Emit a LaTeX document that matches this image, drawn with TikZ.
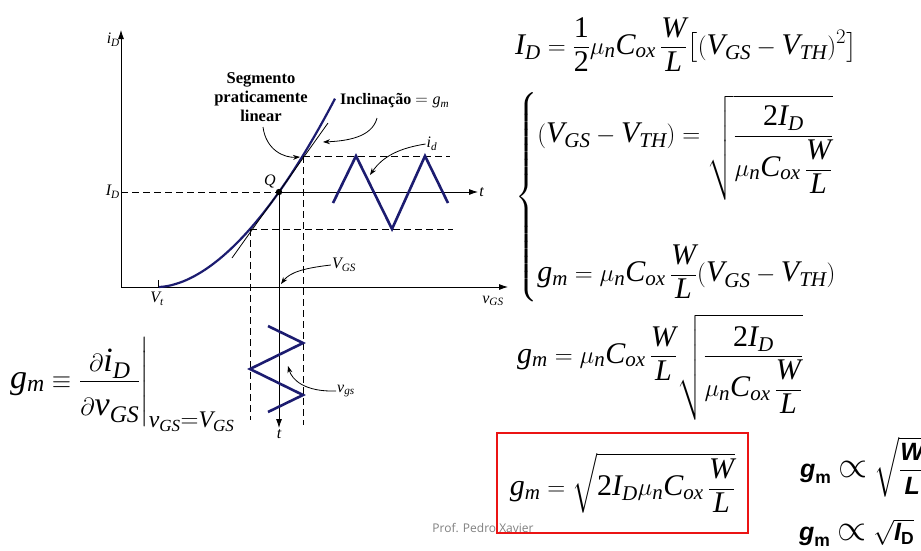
\documentclass[tikz,border=0pt]{standalone}
\usepackage{amsmath}
\usepackage{fontspec}
\setmainfont{Liberation Serif}
\newfontfamily\arialfont{Liberation Sans}
\newfontfamily\slidefont{Open Sans}
\usetikzlibrary{
    calc,
    positioning,
    arrows.meta
}
% Times-like letters in formulas
\DeclareSymbolFont{tletters}{TU}{\rmdefault}{m}{it}
\newcommand{\TL}[1]{\DeclareMathSymbol{#1}{\mathalpha}{tletters}{`#1}}
\TL C\TL D\TL G\TL H\TL I\TL L\TL S\TL T\TL V\TL W\TL Q
\TL d\TL g\TL i\TL m\TL n\TL o\TL s\TL t\TL v\TL x
\newcommand{\dg}[1]{\text{\normalfont #1}}
\definecolor{curveblue}{RGB}{28,28,112}
\definecolor{boxred}{RGB}{235,20,20}
\tikzset{
  axis/.style={thick,-{Latex[length=9pt,width=6pt]}},
  guide/.style={thick,dash pattern=on 7pt off 4pt},
  wave/.style={curveblue,line width=2.6pt},
  pointer/.style={thick,-{Stealth[length=7pt,width=5pt]}},
  lbl/.style={font=\fontsize{16}{19}\selectfont,inner sep=1pt},
  eq/.style={inner sep=0pt,font=\fontsize{30}{36}\selectfont},
  propeq/.style={inner sep=0pt,font=\arialfont\bfseries\fontsize{25}{28}\selectfont}
}
\newcommand{\Mos}{\mu_n C_{ox}\,\dfrac{W}{L}}
\newcommand{\Prop}{\mathrel{\scalebox{1.5}{$\propto$}}}

\begin{document}
\begin{tikzpicture}[x=1pt,y=-1pt]
\useasboundingbox (0,0) rectangle (921,550);
% axes of the transfer curve
\coordinate (O) at (121,287);
\coordinate (Ytop) at (121,30);
\coordinate (Xend) at (508,287);
\coordinate (Vt) at (158,287);
\coordinate (Q) at (279,192);
\coordinate (Up) at (303,156);
\coordinate (Lo) at (250,229);
\draw[axis] (O) -- (Ytop);
\draw[axis] (O) -- (Xend);
\draw[thick] (Vt) -- ++(0,-7);
\node[lbl,left] at (Ytop |- 0,40) {$i_D$};
\node[lbl] at (493,301) {$v_{GS}$};
\node[lbl] at (157,299) {$V_t$};
\node[lbl,left] at (O |- Q) {$I_D$};
% curve and tangent
\draw[curveblue,line width=2.2pt] plot[domain=159:335,samples=60]
  (\x,{287-95*((\x-158)/121)^1.8});
\draw[thick] (232,258) -- (328,123);
% bias point
\draw[guide] (O |- Q) -- (Q);
\draw[axis] (Q) -- (478,192) node[lbl,right] {$t$};
\draw[axis] (Q) -- (279,428) node[lbl,below] {$t$};
\fill (Q) circle (3.2pt);
\node[lbl] at (270,181) {$Q$};
% swing limits
\draw[guide] (Up) -- (450,156);
\draw[guide] (Lo) -- (453,229);
\draw[guide] (Up) -- (303,425);
\draw[guide] (Lo) -- (250,420);
% signals
\draw[wave] (333,203) -- (356,156) -- (392,229) -- (425,156) -- (448,203);
\draw[wave] (268,326) -- (303,343) -- (250,369) -- (303,395) -- (268,412);
% callouts
\node[lbl,align=center,font=\bfseries\fontsize{16.5}{19}\selectfont]
  (segtxt) at (261,97) {Segmento\\praticamente\\linear};
\draw[pointer] (263,127) .. controls (266,150) and (284,158) .. (300,157);
\node[lbl,right] (slopetxt) at (339,101) {\textbf{Inclinação} $=g_m$};
\draw[pointer] (377,118) .. controls (372,138) and (345,141) .. (323,142);
\node[lbl] (idtxt) at (432,144) {$i_d$};
\draw[pointer] (idtxt.west) .. controls (400,148) and (383,156) .. (370,175);
\node[lbl] (vgstxt) at (344,265) {$V_{GS}$};
\draw[pointer] (vgstxt.west) .. controls (305,268) and (290,272) .. (281,284);
\node[lbl] (sigtxt) at (346,391) {$v_{gs}$};
\draw[pointer] (sigtxt.west) .. controls (305,392) and (292,380) .. (288,366);
% formulas
\node[eq,anchor=base west,font=\fontsize{34}{40}\selectfont] (gmdef) at (10,388)
  {$\displaystyle g_m\equiv\left.\frac{\partial i_D\rule[-6pt]{0pt}{0pt}}{\partial v_{GS}\rule{0pt}{30pt}}\right|_{v_{GS}=V_{GS}}$};
\node[eq,anchor=base west] (ideq) at (515,54)
  {$\displaystyle I_D=\frac{\dg1}{\dg2}\mu_n C_{ox}\,\frac{W}{L}\bigl[(V_{GS}-V_{TH})^2\bigr]$};
\node[eq,anchor=west] (sys) at (515,197)
  {$\displaystyle\left\{\begin{array}{@{}l@{}}
   (V_{GS}-V_{TH})=\sqrt{\dfrac{\dg2I_D}{\Mos}}\\[92pt]
   g_m=\Mos(V_{GS}-V_{TH})
   \end{array}\right.$};
\node[eq,anchor=base west] (gmsub) at (517,363)
  {$\displaystyle g_m=\Mos\sqrt{\frac{\dg2I_D}{\Mos}}$};
\node[eq,draw=boxred,line width=2pt,minimum width=251pt,minimum height=100pt]
  (gmbox) at (622.5,483) {$\displaystyle g_m=\sqrt{\dg2I_D\Mos}$};
\node[propeq,anchor=west] (propW) at (800,467)
  {$\textit{g}_{\textup{m}}\Prop\sqrt{\dfrac{\textit{W}}{\textit{L}}}$};
\node[propeq,anchor=west] (propI) at (799,533)
  {$\textit{g}_{\textup{m}}\Prop\sqrt{\textit{I}_{\textup{D}}}$};
\node[font=\slidefont\fontsize{12}{14}\selectfont,text=gray] at (483,528) {Prof. Pedro Xavier};
\end{tikzpicture}
\end{document}
